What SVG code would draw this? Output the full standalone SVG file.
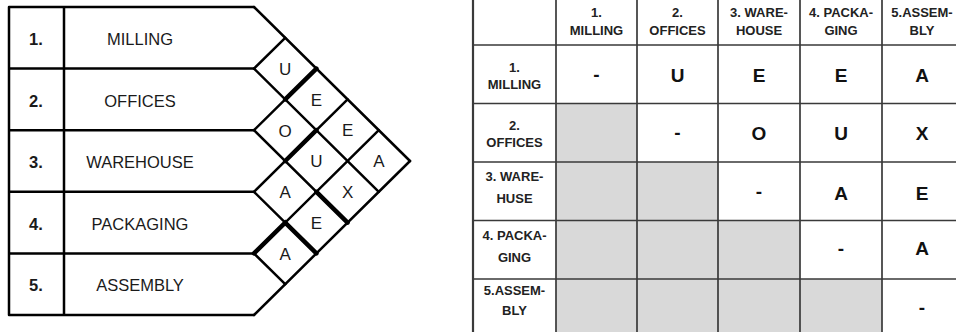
<svg xmlns="http://www.w3.org/2000/svg" width="956" height="332" viewBox="0 0 956 332">
<style>
.bg{fill:#ffffff}
.ln{stroke:#000;stroke-width:2.5;fill:none;stroke-linecap:round;stroke-linejoin:round}
.thk{stroke:#000;stroke-width:4.5;fill:none;stroke-linecap:round}
.num{font-family:"Liberation Sans",Arial,sans-serif;font-weight:bold;font-size:16.5px;fill:#1a1a1a;text-anchor:middle}
.nm{font-family:"Liberation Sans",Arial,sans-serif;font-size:16.5px;fill:#1a1a1a;text-anchor:middle}
.dl{font-family:"Liberation Sans",Arial,sans-serif;font-size:17px;fill:#1a1a1a;text-anchor:middle}
.tl{stroke:#3a3a3a;stroke-width:1.7;fill:none}
.gray{fill:#d9d9d9}
.hd{font-family:"Liberation Sans",Arial,sans-serif;font-weight:bold;font-size:13px;fill:#222;text-anchor:middle}
.cv{font-family:"Liberation Sans",Arial,sans-serif;font-weight:bold;font-size:19px;fill:#111;text-anchor:middle}
</style>
<rect class="bg" x="0" y="0" width="956" height="332"/>

<!-- LEFT: relationship chart -->
<g id="row-1"><text class="num" x="36" y="45">1.</text><text class="nm" x="140" y="45">MILLING</text></g>
<g id="row-2"><text class="num" x="36" y="106.5">2.</text><text class="nm" x="140" y="106.5">OFFICES</text></g>
<g id="row-3"><text class="num" x="36" y="168">3.</text><text class="nm" x="140" y="168">WAREHOUSE</text></g>
<g id="row-4"><text class="num" x="36" y="229.5">4.</text><text class="nm" x="140" y="229.5">PACKAGING</text></g>
<g id="row-5"><text class="num" x="36" y="291">5.</text><text class="nm" x="140" y="291">ASSEMBLY</text></g>

<g id="chart-lines">
<path class="ln" d="M9 7V315M64 7V315M9 7H254M9 68.6H254M9 130.2H254M9 191.8H254M9 253.4H254M9 315H254"/>
<path class="ln" d="M254 7L410 161M254 68.6L378.8 191.8M254 130.2L347.6 222.6M254 191.8L316.4 253.4M254 253.4L285.2 284.2"/>
<path class="ln" d="M254 68.6L285.2 37.8M254 130.2L316.4 68.6M254 191.8L347.6 99.4M254 253.4L378.8 130.2M254 315L410 161"/>
<path class="thk" d="M285.2 99.4L316.4 68.6M285.2 161L316.4 130.2M254 253.4L285.2 222.6L316.4 253.4M316.4 191.8L347.6 222.6"/>
</g>

<g id="d-1-2"><text class="dl" x="285.2" y="74.5">U</text></g>
<g id="d-1-3"><text class="dl" x="316.4" y="105.5">E</text></g>
<g id="d-1-4"><text class="dl" x="347.6" y="136">E</text></g>
<g id="d-1-5"><text class="dl" x="378.8" y="167">A</text></g>
<g id="d-2-3"><text class="dl" x="285.2" y="136.5">O</text></g>
<g id="d-2-4"><text class="dl" x="316.4" y="167">U</text></g>
<g id="d-2-5"><text class="dl" x="347.6" y="198">X</text></g>
<g id="d-3-4"><text class="dl" x="285.2" y="198">A</text></g>
<g id="d-3-5"><text class="dl" x="316.4" y="229">E</text></g>
<g id="d-4-5"><text class="dl" x="285.2" y="259.5">A</text></g>

<!-- RIGHT: matrix table -->
<g id="table-shading">
<rect class="gray" x="556" y="103.5" width="81" height="233"/>
<rect class="gray" x="637" y="162" width="81" height="174.5"/>
<rect class="gray" x="718" y="220.5" width="82" height="116"/>
<rect class="gray" x="800" y="279" width="82" height="57.5"/>
</g>
<g id="table-grid">
<path class="tl" d="M556 -5V340M637 -5V340M718 -5V340M800 -5V340M882 -5V340M473 45H960M473 103.5H960M473 162H960M473 220.5H960M473 279H960"/>
<path class="tl" d="M473 -5V340" style="stroke-width:2.2"/>
</g>

<g id="header">
<text class="hd" x="596.5" y="17">1.</text><text class="hd" x="596.5" y="35">MILLING</text>
<text class="hd" x="677.5" y="17">2.</text><text class="hd" x="677.5" y="35">OFFICES</text>
<text class="hd" x="759" y="17">3. WARE-</text><text class="hd" x="759" y="35">HOUSE</text>
<text class="hd" x="841" y="17">4. PACKA-</text><text class="hd" x="841" y="35">GING</text>
<text class="hd" x="922" y="17">5.ASSEM-</text><text class="hd" x="922" y="35">BLY</text>
</g>

<g id="m-row-1">
<text class="hd" x="514.5" y="72">1.</text><text class="hd" x="514.5" y="88.5">MILLING</text>
<text class="cv" x="596.5" y="81">-</text>
<text class="cv" x="677.5" y="82">U</text>
<text class="cv" x="759" y="82">E</text>
<text class="cv" x="841" y="82">E</text>
<text class="cv" x="922" y="82">A</text>
</g>
<g id="m-row-2">
<text class="hd" x="514.5" y="130">2.</text><text class="hd" x="514.5" y="147">OFFICES</text>
<text class="cv" x="677.5" y="139">-</text>
<text class="cv" x="759" y="140">O</text>
<text class="cv" x="841" y="140">U</text>
<text class="cv" x="922" y="140">X</text>
</g>
<g id="m-row-3">
<text class="hd" x="514.5" y="181">3. WARE-</text><text class="hd" x="514.5" y="203">HUSE</text>
<text class="cv" x="759" y="198">-</text>
<text class="cv" x="841" y="200">A</text>
<text class="cv" x="922" y="200">E</text>
</g>
<g id="m-row-4">
<text class="hd" x="514.5" y="240">4. PACKA-</text><text class="hd" x="514.5" y="262">GING</text>
<text class="cv" x="841" y="255">-</text>
<text class="cv" x="922" y="255">A</text>
</g>
<g id="m-row-5">
<text class="hd" x="514.5" y="295">5.ASSEM-</text><text class="hd" x="514.5" y="315">BLY</text>
<text class="cv" x="922" y="314">-</text>
</g>
</svg>
